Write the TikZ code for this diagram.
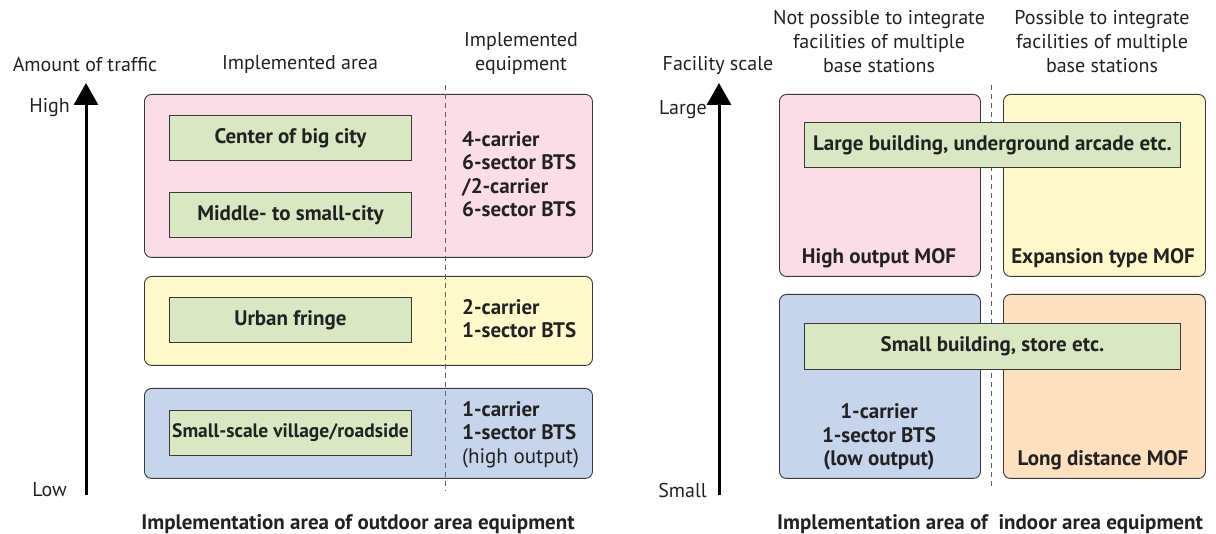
\documentclass[tikz,border=0pt]{standalone}
\usepackage{fontspec}
\setmainfont{PT Sans}
\usetikzlibrary{arrows.meta}
\definecolor{pinkf}{HTML}{FBDDE8}
\definecolor{yellowf}{HTML}{FFF9CC}
\definecolor{bluef}{HTML}{C6D4EC}
\definecolor{orangef}{HTML}{FCE0BF}
\definecolor{greenf}{HTML}{D9E8C3}
\definecolor{bordc}{HTML}{3A3A3A}
\definecolor{txtc}{HTML}{222222}
\begin{document}
\begin{tikzpicture}[x=1pt,y=-1pt,
  region/.style={draw=bordc, line width=0.9pt, rounded corners=7pt, anchor=north west, inner sep=0pt},
  areabox/.style={draw=bordc, fill=greenf, line width=0.9pt, anchor=north west, inner sep=0pt},
  boldtxt/.style={text=txtc, inner sep=0pt, font=\bfseries\fontsize{21}{23.5}\selectfont},
  headtxt/.style={text=txtc, inner sep=0pt, align=center, font=\fontsize{20}{24}\selectfont},
  axtxt/.style={text=txtc, inner sep=0pt, anchor=east, font=\fontsize{20}{24}\selectfont},
  axisarrow/.style={line width=3pt, -{Triangle[width=24pt,length=22pt]}},
  divider/.style={draw=bordc!80, line width=0.9pt, dash pattern=on 5pt off 4pt}
]
\useasboundingbox (0,0) rectangle (1216,534);

% ---------------- Left panel ----------------
\node[headtxt] (hAmt) at (85,65) {Amount of traffic};
\node[headtxt] (hArea) at (300,65) {Implemented area};
\node[headtxt] (hEq) at (521,53.5) {Implemented\\equipment};

\coordinate (axLbot) at (86,495);
\coordinate (axLtop) at (86,83);
\draw[axisarrow] (axLbot) -- (axLtop);
\node[axtxt] (lHigh) at (70,108) {High};
\node[axtxt] (lLow) at (67,490) {Low};

\node[region, fill=pinkf, minimum width=448pt, minimum height=163pt] (rPink) at (144,94) {};
\node[region, fill=yellowf, minimum width=448pt, minimum height=89pt] (rYellow) at (144,276) {};
\node[region, fill=bluef, minimum width=448pt, minimum height=90pt] (rBlue) at (144,388) {};

\coordinate (dLtop) at (445,85);
\coordinate (dLbot) at (445,491);
\draw[divider] (dLtop) -- (dLbot);

\node[areabox, minimum width=242pt, minimum height=45pt] (aBig) at (169,115) {};
\node[boldtxt] at (aBig.center) (tBig) {Center of big city};
\node[areabox, minimum width=242pt, minimum height=45pt] (aMid) at (169,192) {};
\node[boldtxt] at (aMid.center) (tMid) {Middle- to small-city};
\node[areabox, minimum width=242pt, minimum height=45pt] (aUrb) at (169,297) {};
\node[boldtxt] at (aUrb.center) (tUrb) {Urban fringe};
\node[areabox, minimum width=242pt, minimum height=45pt] (aVil) at (169,410) {};
\node[boldtxt, font=\bfseries\fontsize{19.5}{23.5}\selectfont] at (aVil.center) (tVil) {Small-scale village/roadside};

\node[boldtxt, anchor=west, align=left] (ePink) at (462,174) {4-carrier\\6-sector BTS\\/2-carrier\\6-sector BTS};
\node[boldtxt, anchor=west, align=left] (eYellow) at (462,318.5) {2-carrier\\1-sector BTS};
\node[boldtxt, anchor=west, align=left] (eBlue) at (462,434.5) {1-carrier\\1-sector BTS\\\mdseries(high output)};

\node[boldtxt] (capL) at (358,524) {Implementation area of outdoor area equipment};

% ---------------- Right panel ----------------
\node[headtxt] (hFac) at (718,65) {Facility scale};
\node[headtxt] (hNot) at (879,41.5) {Not possible to integrate\\facilities of multiple\\base stations};
\node[headtxt] (hPos) at (1102,41.5) {Possible to integrate\\facilities of multiple\\base stations};

\coordinate (axRbot) at (719,495);
\coordinate (axRtop) at (719,83);
\draw[axisarrow] (axRbot) -- (axRtop);
\node[axtxt] (lLarge) at (707,110) {Large};
\node[axtxt] (lSmall) at (707,490) {Small};

\node[region, fill=pinkf, minimum width=201pt, minimum height=182pt] (qPink) at (779,94) {};
\node[region, fill=yellowf, minimum width=202pt, minimum height=182pt] (qYellow) at (1003,94) {};
\node[region, fill=bluef, minimum width=201pt, minimum height=184pt] (qBlue) at (779,294) {};
\node[region, fill=orangef, minimum width=202pt, minimum height=184pt] (qOrange) at (1003,294) {};

\coordinate (dRtop) at (991,85);
\coordinate (dRbot) at (991,489);
\draw[divider] (dRtop) -- (dRbot);

\node[areabox, minimum width=376pt, minimum height=45pt] (aLarge) at (804,122) {};
\node[boldtxt] at (aLarge.center) (tLarge) {Large building, underground arcade etc.};
\node[areabox, minimum width=376pt, minimum height=46pt] (aSmall) at (804,323) {};
\node[boldtxt] at (aSmall.center) (tSmall) {Small building, store etc.};

\node[boldtxt] (mHigh) at (879,258) {High output MOF};
\node[boldtxt] (mExp) at (1103,258) {Expansion type MOF};
\node[boldtxt, align=center] (mBts) at (879,437) {1-carrier\\1-sector BTS\\(low output)};
\node[boldtxt] (mLong) at (1103,460) {Long distance MOF};

\node[boldtxt] (capR) at (990,524) {Implementation area of\ \ indoor area equipment};
\end{tikzpicture}
\end{document}
